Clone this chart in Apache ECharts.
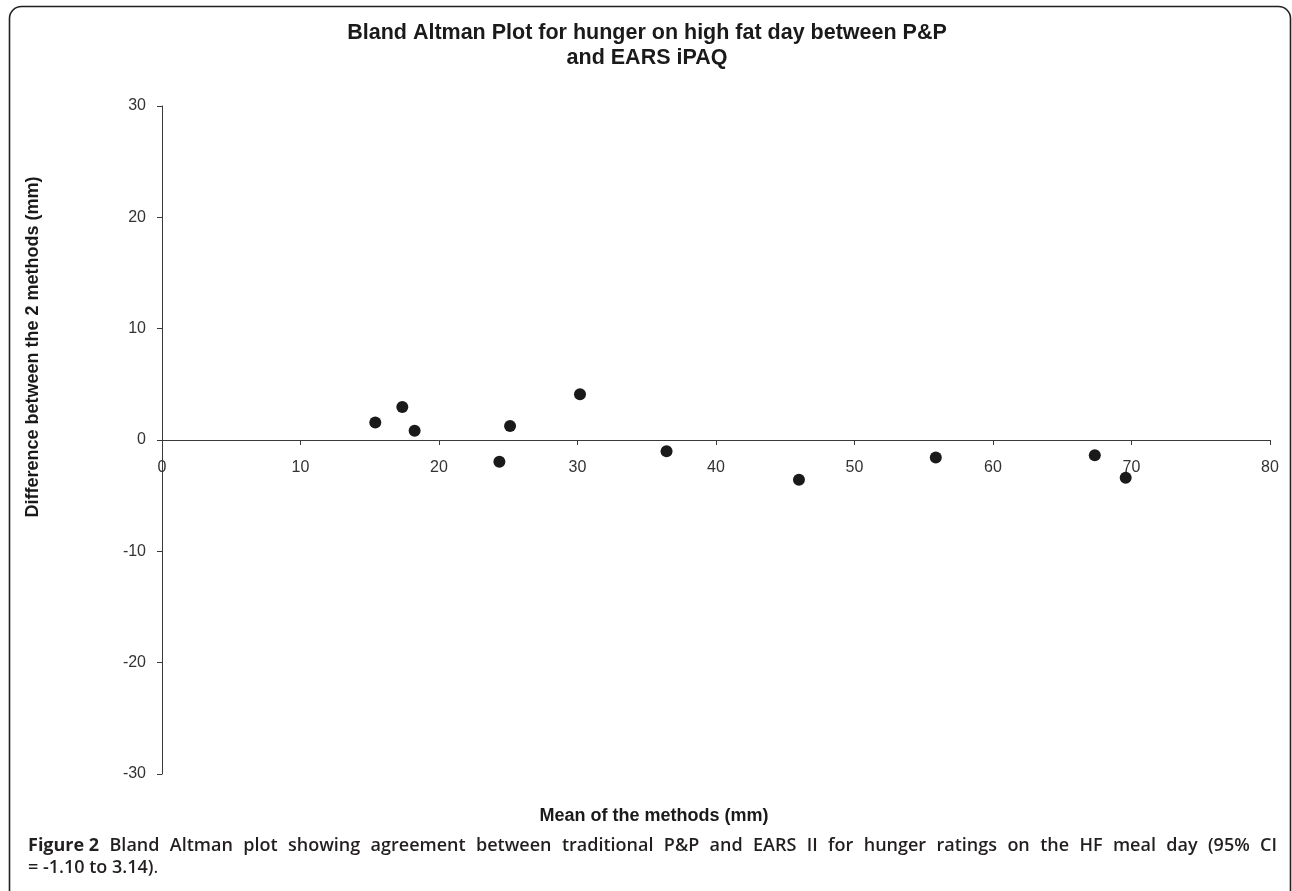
<!DOCTYPE html>
<html>
<head>
<meta charset="utf-8">
<script src="https://cdn.jsdelivr.net/npm/echarts@6/dist/echarts.min.js"></script>
<style>
html,body{margin:0;padding:0;background:#fff;}
#c{width:1292px;height:891px;}
</style>
</head>
<body>
<div id="c"></div>
<script>
// Data
const meanValues = [15.4, 17.35, 18.24, 24.36, 25.13, 30.18, 36.43, 45.99, 55.87, 67.35, 69.58];
const diffValues = [1.58, 2.97, 0.83, -1.96, 1.25, 4.1, -1.0, -3.57, -1.58, -1.37, -3.39];
const xTicks = [0, 10, 20, 30, 40, 50, 60, 70, 80];
const yTicks = [-30, -20, -10, 0, 10, 20, 30];
const titleLines = ['Bland Altman Plot for hunger on high fat day between P&P', 'and EARS iPAQ'];
const xName = 'Mean of the methods (mm)';
const yName = 'Difference between the 2 methods (mm)';
const captionBold = 'Figure 2';
const captionLine1 = 'Bland Altman plot showing agreement between traditional P&P and EARS II for hunger ratings on the HF meal day (95% CI';
const captionLine2 = '= -1.10 to 3.14)';

const points = meanValues.map((m, i) => [m, diffValues[i]]);

const chart = echarts.init(document.getElementById('c'));

// layout constants (pixels)
const gridTop = 106, gridBottom = 117, H = 891;
const zeroY = 440;
const xAxisOffset = -((H - gridBottom) - zeroY);

// justify caption line 1 using canvas measurement
const capFont = '600 18px "Open Sans"';
const capBoldFont = '700 18px "Open Sans"';
const cvs = document.createElement('canvas').getContext('2d');
const words = [captionBold].concat(captionLine1.split(' '));
const fonts = [capBoldFont].concat(captionLine1.split(' ').map(() => capFont));
const widths = words.map((w, i) => { cvs.font = fonts[i]; return cvs.measureText(w).width; });
const x0 = 28, x1 = 1277;
const total = widths.reduce((a, b) => a + b, 0);
const gap = (x1 - x0 - total) / (words.length - 1);
const capEls = [];
let cx = x0;
words.forEach((w, i) => {
  capEls.push({type: 'text', x: cx, y: 855, style: {text: w, font: fonts[i], fill: '#231f20', textAlign: 'left', textVerticalAlign: 'bottom'}});
  cx += widths[i] + gap;
});
const cap2 = {type: 'text', x: x0, y: 877, style: {rich: {a: {font: capFont, fill: '#231f20'}, b: {font: '400 18px "Open Sans"', fill: '#231f20'}}, text: '{a|' + captionLine2 + '}{b|.}', textVerticalAlign: 'bottom'}};

chart.setOption({
  animation: false,
  backgroundColor: '#ffffff',
  grid: {left: 162, right: 22, top: gridTop, bottom: gridBottom, containLabel: false},
  xAxis: {
    type: 'value', min: 0, max: 80, interval: 10, position: 'bottom', offset: xAxisOffset,
    axisLine: {show: true, onZero: false, lineStyle: {color: '#3a3a3a', width: 1}},
    axisTick: {show: true, length: 5, lineStyle: {color: '#3a3a3a'}},
    axisLabel: {margin: 20, fontFamily: 'Liberation Sans, Arial', fontSize: 16, color: '#333', formatter: v => xTicks.includes(v) ? String(v) : ''},
    splitLine: {show: false}
  },
  yAxis: {
    type: 'value', min: -30, max: 30, interval: 10,
    axisLine: {show: true, onZero: false, lineStyle: {color: '#3a3a3a', width: 1}},
    axisTick: {show: true, length: 5, lineStyle: {color: '#3a3a3a'}},
    axisLabel: {margin: 16, fontFamily: 'Liberation Sans, Arial', fontSize: 16, color: '#333', formatter: v => yTicks.includes(v) ? String(v) : ''},
    splitLine: {show: false}
  },
  series: [{
    type: 'scatter', data: points, symbol: 'circle', symbolSize: 12,
    itemStyle: {color: '#1a1a1a', opacity: 1}
  }],
  graphic: [
    {type: 'rect', shape: {x: 9.5, y: 6.5, width: 1281, height: 1000, r: 12}, style: {fill: 'none', stroke: '#231f20', lineWidth: 1.6}, silent: true},
    {type: 'text', x: 647, y: 44, style: {text: titleLines[0], font: 'bold 21.5px "Liberation Sans", Arial', fill: '#1a1a1a', textAlign: 'center', textVerticalAlign: 'bottom'}},
    {type: 'text', x: 647, y: 69, style: {text: titleLines[1], font: 'bold 21.5px "Liberation Sans", Arial', fill: '#1a1a1a', textAlign: 'center', textVerticalAlign: 'bottom'}},
    {type: 'text', x: 654, y: 816, style: {text: xName, font: 'bold 18px "Liberation Sans", Arial', fill: '#1a1a1a', textAlign: 'center', textVerticalAlign: 'middle'}},
    {type: 'text', x: 33, y: 347, rotation: Math.PI / 2, style: {text: yName, font: 'bold 18px "Liberation Sans", Arial', fill: '#1a1a1a', textAlign: 'center', textVerticalAlign: 'middle'}},
  ].concat(capEls).concat([cap2])
});
</script>
</body>
</html>
